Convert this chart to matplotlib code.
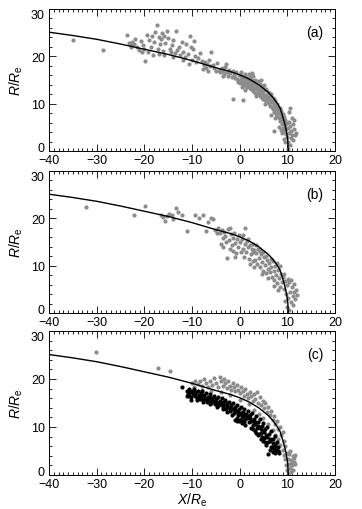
import matplotlib
matplotlib.use('Agg')
import matplotlib.pyplot as plt
from matplotlib.ticker import MultipleLocator

plt.rcParams['font.family'] = ['Liberation Sans', 'DejaVu Sans']
plt.rcParams['mathtext.fontset'] = 'custom'
plt.rcParams['mathtext.rm'] = 'Liberation Sans'
plt.rcParams['mathtext.it'] = 'Liberation Sans:italic'

# model boundary (X, R in Earth radii)
curve_x = [-40, -35, -30, -25, -20, -15, -10, -5, -2, 0, 2, 4, 5, 6, 7, 8, 8.5, 9, 9.5, 9.8, 10.0, 10.1, 10.2]
curve_r = [25.1, 24.4, 23.6, 22.6, 21.5, 20.4, 19.1, 17.6, 16.8, 16.1, 15.2, 14.0, 13.2, 12.4, 11.3, 9.9, 9.0, 7.4, 5.6, 4.2, 3.0, 2.1, 0.0]

# panel (a) crossings
a_pts = [
    (-35.0, 23.5), (-28.7, 21.4),
    (-23.6, 24.5), (-23.2, 22.8), (-22.8, 22.3), (-22.5, 23.0), (-22.1, 22.6), (-21.6, 22.0), (-21.2, 21.4),
    (-20.8, 23.2), (-20.5, 21.0), (-20.3, 22.4), (-19.9, 19.1), (-20.1, 21.6), (-22.9, 22.0), (-21.9, 23.6),
    (-19.5, 24.6), (-19.0, 23.5), (-18.7, 22.0), (-18.4, 24.2), (-18.0, 23.0), (-17.8, 25.2), (-17.4, 26.6),
    (-17.2, 21.5), (-17.0, 24.0), (-16.8, 22.6), (-16.6, 23.6), (-16.3, 25.0), (-16.1, 21.1), (-19.3, 21.0),
    (-18.1, 20.2), (-16.9, 20.5),
    (-15.8, 24.3), (-15.6, 22.8), (-15.3, 25.3), (-15.0, 23.8), (-14.7, 21.6), (-14.5, 20.9), (-14.2, 22.4),
    (-13.9, 23.4), (-13.4, 25.3), (-13.1, 21.3), (-12.8, 22.0), (-12.5, 20.3), (-12.2, 23.0), (-15.9, 20.2),
    (-14.0, 19.8), (-13.6, 20.6),
    (-11.8, 21.0), (-11.5, 19.8), (-11.2, 22.6), (-10.9, 20.4), (-10.5, 24.2), (-10.3, 22.0), (-10.0, 19.2),
    (-9.8, 21.5), (-9.4, 20.0), (-9.1, 18.8), (-8.7, 19.6), (-8.3, 20.8), (-10.7, 18.4), (-11.9, 19.3), (-9.6, 23.3),
    (-7.8, 19.0), (-7.5, 18.2), (-7.3, 18.8), (-7.0, 17.6), (-6.8, 18.4), (-6.5, 19.3), (-6.2, 17.9), (-6.0, 21.0),
    (-5.6, 18.1), (-5.3, 17.5), (-5.0, 16.8), (-4.7, 18.6), (-4.4, 17.2), (-4.1, 16.6), (-7.7, 17.3), (-6.6, 16.9),
    (-3.8, 17.6), (-3.5, 16.9), (-3.2, 16.3), (-3.0, 17.8), (-2.7, 16.6), (-2.5, 15.9), (-2.2, 17.1), (-2.0, 16.4),
    (-1.7, 15.7), (-1.5, 16.9), (-1.2, 16.1), (-1.0, 15.4), (-0.7, 16.6), (-0.5, 15.3), (-0.3, 14.6), (-1.3, 11.0),
    (-0.2, 16.0), (-3.6, 15.8), (-2.9, 18.4),
    (0.0, 15.0), (0.1, 14.3), (0.2, 15.8), (0.3, 16.6), (0.4, 14.8), (0.5, 15.4), (0.6, 13.9), (0.7, 14.6),
    (0.8, 15.9), (0.9, 15.1), (1.0, 14.2), (1.1, 16.2), (1.2, 14.9), (1.3, 13.8), (1.4, 15.6), (1.5, 14.5),
    (1.6, 13.6), (1.7, 15.2), (1.8, 14.0), (1.9, 16.3), (0.4, 13.5), (1.2, 12.8), (0.8, 10.8),
    (2.0, 14.8), (2.1, 13.4), (2.2, 15.6), (2.3, 14.2), (2.4, 13.0), (2.5, 15.0), (2.6, 13.8), (2.7, 14.6),
    (2.8, 12.7), (2.9, 15.8), (3.0, 13.4), (3.1, 14.3), (3.2, 12.3), (3.3, 15.1), (3.4, 13.1), (3.5, 14.0),
    (3.6, 12.1), (3.7, 13.6), (3.8, 14.7), (3.9, 12.8), (2.6, 16.4), (3.5, 11.6),
    (4.0, 13.3), (4.1, 12.2), (4.2, 14.2), (4.3, 11.7), (4.4, 12.9), (4.5, 13.8), (4.6, 11.3), (4.7, 12.5),
    (4.8, 13.4), (4.9, 10.9), (5.0, 12.1), (5.1, 13.9), (5.2, 11.6), (5.3, 12.8), (5.4, 10.8), (5.5, 11.9),
    (5.6, 13.2), (5.7, 10.4), (5.8, 11.4), (5.9, 12.5), (4.4, 14.9), (5.3, 9.9),
    (6.0, 11.0), (6.1, 12.2), (6.2, 10.1), (6.3, 11.6), (6.4, 9.6), (6.5, 10.8), (6.6, 12.0), (6.7, 9.2),
    (6.8, 10.4), (6.9, 11.3), (7.0, 8.8), (7.1, 9.9), (7.2, 10.9), (7.3, 8.3), (7.4, 9.4), (7.5, 10.5),
    (7.6, 7.8), (7.7, 8.9), (7.8, 9.9), (7.9, 7.3), (7.1, 4.3), (6.6, 7.6), (7.4, 6.9),
    (8.0, 8.4), (8.1, 9.4), (8.2, 7.0), (8.3, 8.0), (8.4, 9.0), (8.5, 6.3), (8.6, 7.5), (8.7, 8.5),
    (8.8, 5.6), (8.9, 6.8), (9.0, 7.9), (9.1, 4.9), (9.2, 6.1), (9.3, 7.2), (9.4, 4.2), (9.5, 5.4),
    (9.6, 6.6), (9.7, 3.5), (9.8, 4.6), (9.9, 5.9), (8.3, 5.0), (8.8, 3.8), (9.2, 2.6), (9.5, 1.8), (8.6, 4.4),
    (10.0, 3.0), (10.1, 4.9), (10.2, 2.0), (10.3, 6.2), (10.4, 3.8), (10.5, 1.3), (10.6, 5.2), (10.7, 2.8),
    (10.8, 4.3), (10.9, 7.0), (11.0, 3.4), (11.1, 5.6), (11.2, 2.4), (11.4, 4.6), (11.6, 3.3), (11.8, 3.9),
    (10.1, 0.5), (10.4, 8.2), (10.6, 9.0), (11.3, 6.6),
]

# panel (b) crossings
b_pts = [
    (-32.3, 22.4), (-22.2, 20.8), (-19.9, 22.7), (-16.5, 20.8), (-16.0, 20.3), (-15.6, 19.4), (-15.2, 20.5),
    (-14.8, 21.0), (-14.3, 20.6), (-13.9, 19.9), (-13.3, 22.1), (-13.0, 21.4), (-12.2, 20.6), (-11.0, 17.4),
    (-9.4, 20.6), (-8.6, 20.0), (-7.6, 20.7), (-7.1, 17.3), (-6.6, 19.3), (-6.0, 20.0), (-5.6, 19.9),
    (-5.2, 17.6), (-4.8, 17.0),
    (-4.5, 18.0), (-4.2, 16.8), (-4.0, 14.6), (-3.8, 17.5), (-3.6, 15.8), (-3.4, 13.9), (-3.2, 17.2),
    (-3.0, 16.2), (-2.8, 14.9), (-2.6, 11.6), (-2.5, 17.8), (-2.3, 15.5), (-2.1, 13.5), (-1.9, 16.7),
    (-1.7, 14.3), (-1.5, 15.9), (-1.3, 13.0), (-1.1, 16.9), (-0.9, 14.8), (-0.7, 12.6), (-0.5, 15.6),
    (-0.3, 13.9), (-0.1, 16.4), (-1.0, 11.9), (-2.0, 17.9),
    (0.1, 14.9), (0.3, 12.8), (0.5, 15.7), (0.7, 13.6), (0.9, 11.9), (1.1, 14.6), (1.2, 17.9), (1.3, 12.9),
    (1.5, 15.3), (1.7, 13.9), (1.9, 11.5), (2.1, 14.4), (2.3, 12.4), (2.5, 13.5), (2.7, 10.9), (2.9, 14.6),
    (0.6, 16.4), (1.8, 15.6), (2.2, 10.4), (2.8, 12.8),
    (3.1, 13.3), (3.3, 11.3), (3.5, 12.7), (3.7, 10.3), (3.9, 13.6), (4.1, 11.7), (4.3, 9.8), (4.5, 12.5),
    (4.7, 10.7), (4.9, 8.9), (5.1, 11.9), (5.3, 10.1), (5.5, 8.4), (5.7, 11.1), (5.9, 9.4), (3.4, 14.4),
    (4.2, 13.2), (5.0, 12.8), (4.6, 8.2), (5.6, 12.0), (3.0, 9.8),
    (6.1, 10.5), (6.3, 8.6), (6.5, 9.8), (6.7, 7.7), (6.9, 10.9), (7.1, 8.9), (7.3, 6.9), (7.5, 9.9),
    (7.7, 8.1), (7.9, 6.3), (8.1, 9.1), (8.3, 7.3), (8.5, 5.5), (8.7, 8.3), (8.9, 6.5), (7.2, 5.6),
    (6.6, 11.4), (7.8, 10.6), (8.4, 9.9), (8.0, 4.8), (6.0, 7.4),
    (9.1, 7.6), (9.3, 5.0), (9.5, 6.8), (9.7, 4.1), (9.9, 5.9), (10.1, 3.2), (10.3, 6.5), (10.5, 4.5),
    (10.7, 2.3), (10.9, 5.4), (11.1, 3.6), (11.3, 6.2), (11.5, 4.4), (11.7, 2.9), (11.9, 4.9), (10.0, 1.2),
    (10.2, 7.2), (10.8, 7.0), (9.6, 2.6), (11.2, 1.6), (9.4, 8.2), (10.4, 0.6), (12.0, 3.9),
]

# panel (c) observed crossings (grey)
c_grey_pts = [
    (-30.1, 25.6), (-17.1, 22.2), (-14.6, 21.7),
    (-10.0, 19.2), (-9.3, 19.6), (-8.8, 18.9), (-8.3, 19.5), (-7.8, 18.6), (-7.4, 20.1), (-7.0, 19.2),
    (-6.6, 18.4), (-6.2, 19.6), (-5.8, 18.8), (-5.4, 20.3), (-5.0, 19.1), (-4.6, 18.4), (-4.2, 20.5),
    (-3.9, 19.6), (-3.6, 18.6), (-3.3, 20.1), (-3.0, 19.2), (-2.7, 18.2), (-2.4, 19.6), (-2.1, 18.6),
    (-1.8, 17.8), (-1.5, 19.1), (-1.2, 18.3), (-0.9, 17.4), (-0.6, 18.8), (-0.3, 17.8), (0.0, 17.0),
    (0.3, 18.3), (0.6, 17.4), (0.9, 16.5), (1.2, 17.9), (1.5, 16.9), (1.8, 16.0), (2.1, 17.3), (2.4, 16.4),
    (2.7, 15.5), (3.0, 16.8), (3.3, 15.8), (3.6, 17.2), (3.9, 15.1), (4.2, 16.2), (4.5, 14.5), (4.8, 15.5),
    (5.1, 13.9), (5.4, 14.9), (5.7, 13.2), (6.0, 14.1), (6.3, 12.4), (6.6, 13.3), (6.9, 11.5), (7.2, 12.3),
    (7.5, 10.6), (7.8, 11.2), (8.1, 9.6), (8.4, 10.1), (8.7, 8.4), (9.0, 8.9), (9.3, 7.1), (9.6, 6.0),
    (-6.0, 17.6), (-4.0, 17.2), (-2.0, 16.6), (0.0, 15.6), (2.0, 14.7), (3.0, 13.6), (4.0, 12.8), (5.0, 11.8),
    (6.0, 10.6), (7.0, 9.4), (7.5, 8.3), (8.0, 7.4), (8.5, 6.3), (9.0, 5.3), (9.3, 4.2), (8.2, 5.1),
    (7.6, 6.4), (6.8, 7.5), (-8.0, 17.7), (-9.5, 18.4),
    (9.6, 3.4), (9.8, 2.1), (10.0, 1.0), (10.1, 3.3), (10.3, 2.2), (10.4, 4.3), (10.6, 1.4), (10.8, 3.1),
    (11.0, 2.0), (11.1, 4.0), (11.3, 2.7), (11.5, 3.5), (11.7, 2.3), (10.2, 0.3), (10.5, 5.0), (11.2, 1.1),
    (9.9, 4.6), (10.7, 0.6), (11.6, 4.2), (10.9, 2.6),
]

# panel (c) predicted positions (black)
c_black_pts = [
    (-12.0, 18.3), (-11.0, 17.6), (-10.8, 16.9), (-10.6, 18.0), (-10.4, 17.2), (-10.2, 16.3), (-10.0, 17.6),
    (-9.8, 16.8), (-9.6, 17.9), (-9.4, 16.4), (-9.2, 17.2), (-9.0, 16.0), (-8.8, 17.5), (-8.6, 16.6),
    (-8.4, 15.8), (-8.2, 17.0), (-8.0, 16.2), (-7.8, 17.4), (-7.6, 15.6), (-7.4, 16.6), (-7.2, 15.9),
    (-7.0, 17.0), (-6.8, 15.3), (-6.6, 16.3), (-6.4, 15.6), (-6.2, 16.8), (-6.0, 15.0), (-5.8, 16.1),
    (-5.6, 15.4), (-5.4, 16.5), (-5.2, 14.8), (-5.0, 15.8), (-4.8, 15.1), (-4.6, 16.2), (-4.4, 14.5),
    (-4.2, 15.5), (-4.0, 14.8), (-3.8, 16.0), (-3.6, 14.2), (-3.4, 15.2), (-3.2, 14.5), (-3.0, 15.6),
    (-2.8, 13.8), (-2.6, 14.9), (-2.4, 14.1), (-2.2, 15.3), (-2.0, 13.4), (-1.8, 14.5), (-1.6, 13.7),
    (-1.4, 14.9), (-1.2, 13.0), (-1.0, 14.1), (-0.8, 13.3), (-0.6, 14.6), (-0.4, 12.5), (-0.2, 13.7),
    (0.0, 12.8), (0.2, 14.2), (0.4, 12.0), (0.6, 13.2), (0.8, 12.4), (1.0, 13.7), (1.2, 11.7), (1.4, 12.8),
    (1.6, 11.8), (1.8, 13.3), (2.0, 11.0), (2.2, 12.4), (2.4, 11.3), (2.6, 12.9), (2.8, 10.4), (3.0, 11.7),
    (3.2, 10.6), (3.4, 12.2), (3.6, 9.7), (3.8, 11.0), (4.0, 9.9), (4.2, 11.6), (4.4, 8.8), (4.6, 10.3),
    (4.8, 9.1), (5.0, 10.9), (5.2, 7.8), (5.4, 9.5), (5.6, 8.3), (5.8, 10.0), (6.0, 6.9), (6.2, 8.6),
    (6.4, 7.4), (6.6, 9.1), (6.8, 5.9), (7.0, 7.6), (7.2, 6.4), (7.4, 8.2), (7.6, 5.3), (7.8, 6.8),
    (8.0, 5.0), (8.2, 4.6), (7.5, 4.5), (7.0, 4.7), (5.9, 4.4), (6.3, 5.3), (5.5, 6.2), (4.9, 7.0),
    (4.5, 7.6), (3.9, 8.3), (3.3, 9.2), (2.7, 9.6),
    (-1.0, 11.4), (-0.6, 11.3), (-0.2, 11.3), (0.2, 11.2), (0.6, 11.2), (1.0, 11.1),
    (0.5, 10.9), (-0.6, 11.8), (-1.6, 12.5), (-2.6, 13.1), (-3.6, 13.8), (-4.8, 14.2), (-6.2, 14.7),
    (-7.6, 15.2), (-9.0, 15.6), (-10.2, 15.7), (-11.0, 16.4), (-10.6, 16.5),
    (-9.9, 17.3), (-9.3, 16.9), (-8.7, 16.3), (-8.1, 16.7), (-7.5, 16.2), (-6.9, 15.8), (-6.3, 16.2),
    (-5.7, 15.7), (-5.1, 15.4), (-4.5, 15.1), (-3.9, 14.9), (-3.3, 14.6), (-2.7, 14.4), (-2.1, 14.0),
    (-1.5, 13.8), (-0.9, 13.6), (-0.3, 13.1), (0.3, 12.9), (0.9, 12.5), (1.5, 12.2), (2.1, 11.9),
    (2.7, 11.3), (3.3, 11.0), (3.9, 10.2), (4.5, 9.6), (5.1, 8.9), (5.7, 8.0), (6.3, 7.0), (6.9, 6.6),
    (7.5, 6.0), (0.1, 11.4), (1.1, 10.4), (2.3, 9.8), (3.5, 8.8), (4.1, 8.5), (4.7, 8.0), (5.3, 6.8),
    (6.5, 5.8), (7.3, 5.4), (8.1, 5.8),
]

panel_labels = ['(a)', '(b)', '(c)']
y_ticks = [0, 10, 20, 30]
y_ticklabels = ['0', '10', '20', '30']

grey = '#8c8c8c'
fig = plt.figure(figsize=(3.62, 5.10), dpi=100)
boxes = [
    [49 / 362, (510 - 152) / 510, 286 / 362, 142 / 510],
    [49 / 362, (510 - 314) / 510, 286 / 362, 142 / 510],
    [49 / 362, (510 - 476) / 510, 286 / 362, 144 / 510],
]


def draw_pts(ax, pts, color):
    xs = [p[0] for p in pts]
    rs = [p[1] for p in pts]
    ax.plot(xs, rs, linestyle='none', marker='o', ms=3.0, mew=0, color=color)


axes = []
for i, box in enumerate(boxes):
    ax = fig.add_axes(box)
    axes.append(ax)
    if i == 0:
        draw_pts(ax, a_pts, grey)
    elif i == 1:
        draw_pts(ax, b_pts, grey)
    else:
        draw_pts(ax, c_grey_pts, grey)
        draw_pts(ax, c_black_pts, 'black')
    ax.plot(curve_x, curve_r, color='black', lw=1.0)
    ax.set_xlim(-40, 20)
    ax.set_ylim(0, 30)
    ax.xaxis.set_major_locator(MultipleLocator(10))
    ax.xaxis.set_minor_locator(MultipleLocator(1))
    ax.set_yticks(y_ticks)
    ax.set_yticklabels(y_ticklabels)
    ax.yaxis.set_minor_locator(MultipleLocator(2))
    ax.tick_params(which='both', direction='in', top=True, right=True, labelsize=9, width=0.6)
    ax.tick_params(which='major', length=5)
    ax.tick_params(which='minor', length=2.5)
    ax.tick_params(axis='x', pad=2.5)
    ax.tick_params(axis='y', pad=3)
    for s in ax.spines.values():
        s.set_linewidth(0.7)
    ax.set_ylabel('$R/R_\\mathrm{e}$', fontsize=10, labelpad=4)
    ax.text(0.93, 0.84, panel_labels[i], transform=ax.transAxes, ha='center', va='center', fontsize=10)
    # end labels sit inside the axis span, clear of the x labels of the panel above/below
    ytk = ax.yaxis.get_major_ticks()
    ytk[0].label1.set_verticalalignment('baseline')
    ytk[-1].label1.set_verticalalignment('top')

axes[2].set_xlabel('$X/R_\\mathrm{e}$', fontsize=10, labelpad=0)

fig.savefig('out.png', dpi=100)
